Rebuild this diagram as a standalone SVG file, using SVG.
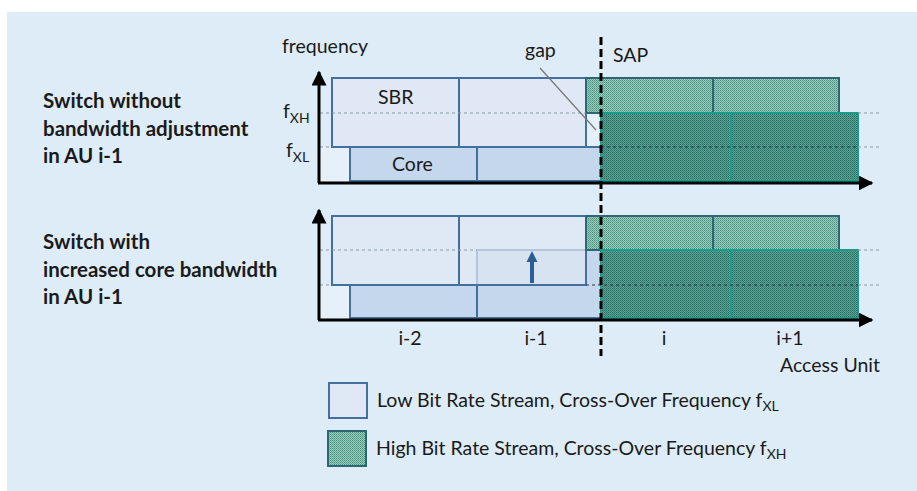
<svg xmlns="http://www.w3.org/2000/svg" width="917" height="491" viewBox="0 0 917 491">
<defs>
<style>
text{font-family:Lato,"Liberation Sans",sans-serif;fill:#1a1a1a;font-size:19.5px}
.lbl{font-weight:bold;font-size:20.5px}
.sub{font-size:14px}
.sbr{fill:#dfe8f4;stroke:#43709f;stroke-width:2}
.sbrt{fill:#dfe8f4;fill-opacity:0.72;stroke:#43709f;stroke-width:2}
.core{fill:#c5d7ec;stroke:#43709f;stroke-width:2}
.hi{fill:url(#hatchL);stroke:#2e6773;stroke-width:2}
.hd{fill:url(#hatchD);stroke:#1a9c8c;stroke-width:2}
.axis{stroke:#000;stroke-width:3;fill:none}
.dot{stroke:#8a9aa8;stroke-width:1;stroke-dasharray:3 3;fill:none}
.dotk{stroke:#334;stroke-width:1;stroke-dasharray:3 3;fill:none}
</style>
<pattern id="hatchL" width="2" height="2" patternUnits="userSpaceOnUse">
<rect width="2" height="2" fill="#9acdbb"/>
<rect width="1" height="1" fill="#468f7e"/>
<rect x="1" y="1" width="1" height="1" fill="#64a895"/>
</pattern>
<pattern id="hatchD" width="2" height="2" patternUnits="userSpaceOnUse">
<rect width="2" height="2" fill="#5aa596"/>
<rect width="1" height="1" fill="#266a60"/>
<rect x="1" y="1" width="1" height="1" fill="#3a8074"/>
</pattern>
<marker id="ah" viewBox="0 0 10 10" refX="9" refY="5" markerWidth="5" markerHeight="5" orient="auto" markerUnits="strokeWidth">
<path d="M0,0 L10,5 L0,10 z" fill="#000"/>
</marker>
</defs>
<rect x="7" y="12" width="910" height="479" fill="#deecf7"/>

<g id="labels">
<text class="lbl" x="43" y="108">Switch without</text>
<text class="lbl" x="43" y="136">bandwidth adjustment</text>
<text class="lbl" x="43" y="163">in AU i-1</text>
<text class="lbl" x="43" y="249">Switch with</text>
<text class="lbl" x="43" y="277">increased core bandwidth</text>
<text class="lbl" x="43" y="304">in AU i-1</text>
</g>

<g id="top-chart">
<rect x="320" y="147" width="30" height="34" fill="#e6f0f9"/>
<rect x="586" y="113" width="15" height="34" fill="#e6f0f9"/>
<rect class="sbr" x="332" y="78" width="127" height="69"/>
<rect class="sbr" x="459" y="78" width="127" height="69"/>
<rect class="core" x="350" y="147" width="127" height="34"/>
<rect class="core" x="477" y="147" width="124" height="34"/>
<rect class="hi" x="586" y="78" width="127" height="35"/>
<rect class="hi" x="713" y="78" width="126" height="35"/>
<rect class="hd" x="601" y="113" width="130" height="68"/>
<rect class="hd" x="731" y="113" width="127" height="68"/>
<path class="dot" d="M320,113 H586 M858,113 H882 M320,147 H332 M858,147 H882"/>
<path class="dotk" d="M601,147 H858"/>
<text x="378" y="104">SBR</text>
<text x="392" y="171">Core</text>
<text x="282" y="53">frequency</text>
<text x="283" y="118">f<tspan class="sub" dy="5">XH</tspan></text>
<text x="286" y="157">f<tspan class="sub" dy="5">XL</tspan></text>
<text x="525" y="57">gap</text>
</g>

<g id="bottom-chart">
<rect x="320" y="285" width="30" height="33" fill="#e6f0f9"/>
<rect class="core" x="350" y="285" width="127" height="33"/>
<rect class="core" x="477" y="250" width="124" height="68"/>
<rect class="sbrt" x="332" y="216" width="127" height="69"/>
<rect class="sbrt" x="459" y="216" width="127" height="69"/>
<rect class="hi" x="586" y="216" width="127" height="34"/>
<rect class="hi" x="713" y="216" width="126" height="34"/>
<rect class="hd" x="601" y="250" width="130" height="68"/>
<rect class="hd" x="731" y="250" width="127" height="68"/>
<path class="dot" d="M320,250 H477 M858,250 H882 M320,285 H332 M858,285 H882"/>
<path class="dotk" d="M586,285 H858"/>
</g>

<g id="connectors">
<path class="axis" d="M319,183 V72" marker-end="url(#ah)"/>
<path class="axis" d="M318,183 H872" marker-end="url(#ah)"/>
<path class="axis" d="M319,320 V210" marker-end="url(#ah)"/>
<path class="axis" d="M318,320 H872" marker-end="url(#ah)"/>
<path d="M532,283 V260" stroke="#2b5e93" stroke-width="4" fill="none"/>
<path d="M526.5,262 L532,251 L537.5,262 z" fill="#2b5e93"/>
<path d="M540,68 L596,130" stroke="#777" stroke-width="1.2" fill="none"/>
<path d="M601,37 V356" stroke="#000" stroke-width="3" stroke-dasharray="8 4" fill="none"/>
</g>

<g id="axis-labels">
<text x="613" y="62">SAP</text>
<text x="410" y="345" text-anchor="middle">i-2</text>
<text x="536" y="345" text-anchor="middle">i-1</text>
<text x="664" y="345" text-anchor="middle">i</text>
<text x="790" y="345" text-anchor="middle">i+1</text>
<text x="780" y="372">Access Unit</text>
</g>

<g id="legend">
<rect class="sbr" x="329" y="383" width="38" height="35"/>
<text x="377" y="407">Low Bit Rate Stream, Cross-Over Frequency f<tspan class="sub" dy="4">XL</tspan></text>
<rect class="hi" x="328" y="431" width="38" height="35"/>
<text x="376" y="455">High Bit Rate Stream, Cross-Over Frequency f<tspan class="sub" dy="4">XH</tspan></text>
</g>
</svg>
